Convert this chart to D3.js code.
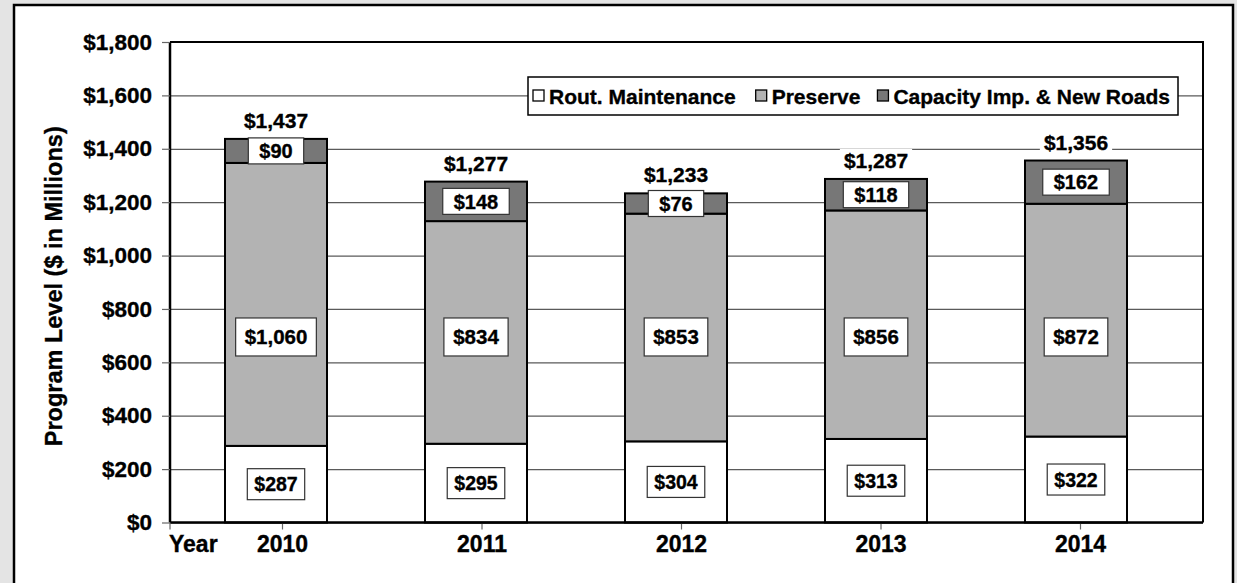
<!DOCTYPE html>
<html>
<head>
<meta charset="utf-8">
<script src="https://cdn.jsdelivr.net/npm/d3@7"></script>
<style>
  html, body { margin: 0; padding: 0; background: #e4e4e4; }
  svg { display: block; font-family: "Liberation Sans", Arial, sans-serif; font-weight: bold; }
  svg text { stroke: #000; stroke-width: 0.35px; fill: #000; }
</style>
</head>
<body>
<svg id="chart" width="1237" height="583"></svg>
<script>
// Program levels by year ($ in millions)
const years = ["2010", "2011", "2012", "2013", "2014"];
const routineMaintenance = [287, 295, 304, 313, 322];
const preserve = [1060, 834, 853, 856, 872];
const capacityNewRoads = [90, 148, 76, 118, 162];
const totals = [1437, 1277, 1233, 1287, 1356];
const seriesNames = ["Rout. Maintenance", "Preserve", "Capacity Imp. & New Roads"];
const seriesColors = ["#ffffff", "#b3b3b3", "#777777"];
const yTicks = [0, 200, 400, 600, 800, 1000, 1200, 1400, 1600, 1800];
const yTitle = "Program Level ($ in Millions)";
const xTitle = "Year";

const svg = d3.select("#chart");
const W = 1237, H = 583;
const plot = { left: 170, right: 1203, top: 42, bottom: 522.5 };

// outer panel
svg.append("rect").attr("x", 0).attr("y", 0).attr("width", W).attr("height", H).attr("fill", "#e4e4e4");
svg.append("rect").attr("x", 14).attr("y", 5).attr("width", 1219).attr("height", 620)
  .attr("fill", "#ffffff").attr("stroke", "#000").attr("stroke-width", 2.5);

const y = d3.scaleLinear().domain([0, 1800]).range([plot.bottom, plot.top]);
const x = d3.scaleBand().domain(years).range([176, 1176]).paddingInner(0.49).paddingOuter(0.245);
const xLabel = d3.scalePoint().domain(years).range([282, 1080]);

// gridlines
const grid = svg.append("g").attr("transform", `translate(${plot.left},0)`)
  .call(d3.axisLeft(y).tickValues(yTicks).tickSize(-(plot.right - plot.left)).tickFormat(""));
grid.select(".domain").remove();
grid.selectAll("line").attr("stroke", "#5a5a5a").attr("stroke-width", 1.2);

// plot frame (top and right)
svg.append("path")
  .attr("d", `M${plot.left},${plot.top}H${plot.right}V${plot.bottom}`)
  .attr("fill", "none").attr("stroke", "#000").attr("stroke-width", 2);

// stacked bars
const rows = years.map((yr, i) => ({
  year: yr,
  values: [routineMaintenance[i], preserve[i], capacityNewRoads[i]],
  total: totals[i]
}));
const stackData = rows.map(r => ({ year: r.year, s0: r.values[0], s1: r.values[1], s2: r.values[2] }));
const stacked = d3.stack().keys(["s0", "s1", "s2"])(stackData);

const barG = svg.append("g");
stacked.forEach((layer, k) => {
  barG.selectAll(null).data(layer).join("rect")
    .attr("x", d => x(d.data.year))
    .attr("width", x.bandwidth())
    .attr("y", d => y(d[1]))
    .attr("height", d => y(d[0]) - y(d[1]))
    .attr("fill", seriesColors[k])
    .attr("stroke", "#000")
    .attr("stroke-width", 2);
});

// y axis
const yAxis = svg.append("g").attr("transform", `translate(${plot.left},0)`)
  .call(d3.axisLeft(y).tickValues(yTicks).tickSize(8).tickPadding(10).tickFormat(d3.format("$,")));
yAxis.select(".domain").attr("stroke", "#000").attr("stroke-width", 2.5).attr("d", `M0,${plot.top}V${plot.bottom}`);
yAxis.selectAll("line").attr("stroke", "#666").attr("stroke-width", 1.2);
yAxis.selectAll("text").attr("font-size", 22.5).attr("font-weight", "bold").attr("fill", "#000")
  .attr("font-family", "Liberation Sans, Arial, sans-serif");

// x axis
const xAxis = svg.append("g").attr("transform", `translate(0,${plot.bottom})`)
  .call(d3.axisBottom(xLabel).tickSize(7).tickPadding(6));
xAxis.select(".domain").remove();
xAxis.selectAll("line").attr("stroke", "#666").attr("stroke-width", 1.2);
xAxis.selectAll("text").attr("font-size", 23).attr("font-weight", "bold").attr("fill", "#000")
  .attr("font-family", "Liberation Sans, Arial, sans-serif");
svg.append("line").attr("x1", plot.left).attr("x2", plot.right)
  .attr("y1", plot.bottom).attr("y2", plot.bottom).attr("stroke", "#000").attr("stroke-width", 2.5);
svg.append("line").attr("x1", plot.left).attr("x2", plot.left)
  .attr("y1", plot.bottom).attr("y2", plot.bottom + 7).attr("stroke", "#666").attr("stroke-width", 1.2);
svg.append("text").attr("x", plot.left - 1).attr("y", 551.5).attr("font-size", 23).text(xTitle);

// y title
svg.append("text")
  .attr("transform", `translate(62,${(plot.top + plot.bottom) / 2 + 4}) rotate(-90)`)
  .attr("text-anchor", "middle").attr("font-size", 23.5).text(yTitle);

// segment value labels (boxed); the Preserve labels sit on a common level
const fmt = d3.format("$,");
const boxPad = [7, 9, 11];
const boxH = [31, 38, 26];
const labelSize = [19.5, 20.5, 20];
const preserveLabelLevel = 695;
stacked.forEach((layer, k) => {
  layer.forEach(d => {
    const cx = x(d.data.year) + x.bandwidth() / 2;
    const cy = k === 1 ? y(preserveLabelLevel) : y((d[0] + d[1]) / 2);
    const g = svg.append("g");
    const t = g.append("text").attr("x", cx).attr("y", cy).attr("dy", "0.36em")
      .attr("text-anchor", "middle").attr("font-size", labelSize[k]).text(fmt(d[1] - d[0]));
    const bb = t.node().getBBox();
    g.insert("rect", "text")
      .attr("x", cx - bb.width / 2 - boxPad[k]).attr("width", bb.width + 2 * boxPad[k])
      .attr("y", cy - boxH[k] / 2).attr("height", boxH[k])
      .attr("fill", "#fff").attr("stroke", "#333").attr("stroke-width", 1.2);
  });
});

// totals above bars
rows.forEach(r => {
  const cx = x(r.year) + x.bandwidth() / 2;
  const g = svg.append("g");
  const t = g.append("text").attr("x", cx).attr("y", y(r.total) - 11)
    .attr("text-anchor", "middle").attr("font-size", 21).text(fmt(r.total));
  const bb = t.node().getBBox();
  g.insert("rect", "text").attr("x", bb.x - 4).attr("y", bb.y).attr("width", bb.width + 8)
    .attr("height", bb.height).attr("fill", "#fff").attr("stroke", "none");
});

// legend
const lg = svg.append("g");
lg.append("rect").attr("x", 528).attr("y", 77).attr("width", 650).attr("height", 38)
  .attr("fill", "#fff").attr("stroke", "#000").attr("stroke-width", 1.5);
let lx = 533;
const legendGaps = [20, 17];
seriesNames.forEach((name, k) => {
  lg.append("rect").attr("x", lx).attr("y", 90).attr("width", 11).attr("height", 11)
    .attr("fill", seriesColors[k]).attr("stroke", "#000").attr("stroke-width", 1.3);
  const t = lg.append("text").attr("x", lx + 16).attr("y", 103.5).attr("font-size", 21).text(name);
  lx += 16 + t.node().getComputedTextLength() + (legendGaps[k] || 0);
});
</script>
</body>
</html>
